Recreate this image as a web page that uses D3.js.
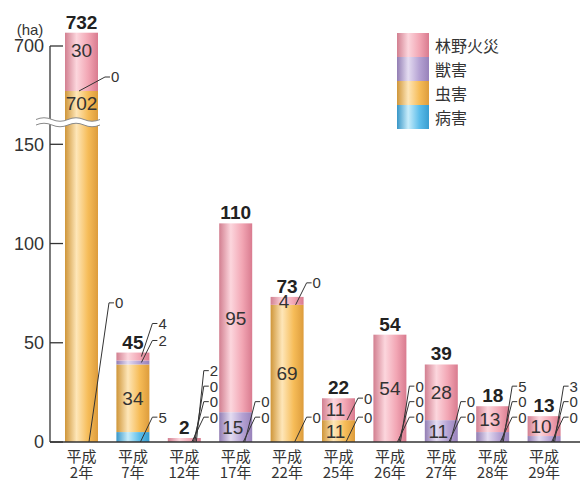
<!DOCTYPE html>
<html><head><meta charset="utf-8">
<script src="https://cdn.jsdelivr.net/npm/d3@7/dist/d3.min.js"></script>
<style>
html,body{margin:0;padding:0;background:#fff;}
svg{display:block;}
</style></head>
<body>
<svg id="chart" width="580" height="483"></svg>
<script>
// ---- data ----
const categories = ["平成2年","平成7年","平成12年","平成17年","平成22年","平成25年","平成26年","平成27年","平成28年","平成29年"];
const eraLabel = "平成";
const yearLabels = ["2年","7年","12年","17年","22年","25年","26年","27年","28年","29年"];
const seriesKeys = ["disease","insect","animal","fire"];        // bottom -> top
const seriesNames = ["病害","虫害","獣害","林野火災"];
const disease = [0,5,0,0,0,0,0,0,0,0];
const insect  = [702,34,0,0,69,11,0,0,0,0];
const animal  = [0,2,0,15,0,0,0,11,5,3];
const fire    = [30,4,2,95,4,11,54,28,13,10];
const axisTicks = [0,50,100,150,700];
const unitLabel = "(ha)";
// segments labelled inside even though small
const insideSmall = [["平成22年","fire"]];

// ---- layout ----
const W = 580, H = 483;
const baseY = 442;
const svg = d3.select("#chart");
const defs = svg.append("defs");

const x = d3.scaleBand().domain(categories).range([55.8, 569.8]).paddingInner(0.358).paddingOuter(0.179);
// bar scale with break (values above ~161 compressed)
const yBar = d3.scaleLinear().domain([0, 161, 702, 732]).range([baseY, 122, 91, 32.7]);
// axis scale (tick labels)
const yAxis = d3.scaleLinear().domain([0, 150, 700]).range([baseY, 144.3, 46]);

const gradStops = {
  fire:    ["#d27f90","#fcd6dd","#f2a6b4","#d97b8f"],
  animal:  ["#927db3","#e4dcf1","#b5a2d3","#9882ba"],
  insect:  ["#cf963a","#fee6b8","#f6bc58","#dd9c3c"],
  disease: ["#3896c7","#c8edfb","#5cbdea","#389dd0"]
};
seriesKeys.forEach(k => {
  const g = defs.append("linearGradient").attr("id","g-"+k).attr("x1","0").attr("x2","1").attr("y1","0").attr("y2","0");
  [0,0.35,0.7,1].forEach((o,i)=> g.append("stop").attr("offset",o).attr("stop-color",gradStops[k][i]));
});

const rows = categories.map((c,i)=>({cat:c, disease:disease[i], insect:insect[i], animal:animal[i], fire:fire[i]}));
const stacked = d3.stack().keys(seriesKeys)(rows);

const textCol = "#333";
const numFont = "'Liberation Sans', Arial, sans-serif";
const cjkFont = "'Noto Sans CJK JP', sans-serif";

// bars
const gBars = svg.append("g");
stacked.forEach(layer => {
  gBars.selectAll(null).data(layer.filter(d => d[1] > d[0])).enter().append("rect")
    .attr("x", d => x(d.data.cat))
    .attr("width", x.bandwidth())
    .attr("y", d => yBar(d[1]))
    .attr("height", d => yBar(d[0]) - yBar(d[1]))
    .attr("fill", "url(#g-"+layer.key+")");
});

// y axis line
svg.append("line").attr("x1",50).attr("x2",50).attr("y1",yAxis(700)).attr("y2",baseY).attr("stroke",textCol).attr("stroke-width",1.3);
// axis break wave over axis and first bar
const wy1 = 119.5, wy2 = 125;
svg.append("path")
  .attr("d", `M36,${wy1} Q44,${wy1-3.5} 52,${wy1} T68,${wy1} T84,${wy1} T100,${wy1} L100,${wy2} Q92,${wy2+3.5} 84,${wy2} T68,${wy2} T52,${wy2} T36,${wy2} Z`)
  .attr("fill","#fff");
[wy1, wy2].forEach(w => svg.append("path").attr("d", `M36,${w} Q44,${w-3.5} 52,${w} T68,${w} T84,${w} T100,${w}`)
  .attr("fill","none").attr("stroke","#8a8a8a").attr("stroke-width",1));

// ticks
axisTicks.forEach(t => {
  svg.append("line").attr("x1",50).attr("x2",63).attr("y1",yAxis(t)).attr("y2",yAxis(t)).attr("stroke",textCol).attr("stroke-width",1.3);
  svg.append("text").attr("x",44).attr("y",yAxis(t)).attr("dy","0.36em").attr("text-anchor","end")
    .attr("font-family",numFont).attr("font-size",18).attr("fill",textCol).text(t);
});
svg.append("text").attr("x",30).attr("y",30).attr("dy","0.36em").attr("text-anchor","middle")
  .attr("font-family",numFont).attr("font-size",15).attr("fill",textCol).text(unitLabel);

// x baseline
svg.append("line").attr("x1",50).attr("x2",W).attr("y1",baseY).attr("y2",baseY).attr("stroke",textCol).attr("stroke-width",1.5);

// x labels
categories.forEach((c,i) => {
  const cx = x(c) + x.bandwidth()/2;
  const t = svg.append("text").attr("text-anchor","middle")
    .attr("font-family",cjkFont).attr("font-size",15).attr("fill",textCol);
  t.append("tspan").attr("x",cx).attr("y",462).text(eraLabel);
  t.append("tspan").attr("x",cx).attr("y",478).text(yearLabels[i]);
});

// totals
rows.forEach(r => {
  const tot = seriesKeys.reduce((s,k)=>s+r[k],0);
  svg.append("text").attr("x", x(r.cat)+x.bandwidth()/2).attr("y", yBar(tot)-4)
    .attr("text-anchor","middle").attr("font-family",numFont).attr("font-weight","bold")
    .attr("font-size",19).attr("fill","#222").text(tot);
});

// inside labels and callouts
const isInsideSmall = (cat,k) => insideSmall.some(p => p[0]===cat && p[1]===k);
const gLab = svg.append("g").attr("font-family",numFont).attr("fill",textCol);
const gCall = svg.append("g");
categories.forEach((c,i) => {
  const bx = x(c), bw = x.bandwidth(), br = bx + bw;
  const segs = seriesKeys.map((k,si) => ({k, v: rows[i][k], y0: stacked[si][i][0], y1: stacked[si][i][1]}));
  const callouts = segs.filter(s => s.v < 6 && !isInsideSmall(c, s.k));
  const hasBaseCall = callouts.some(s => s.y0 === 0);
  const bigBar = c === categories[0];
  segs.filter(s => !callouts.includes(s) && s.v > 0).forEach(s => {
    let ly = (yBar(s.y0) + yBar(s.y1)) / 2;
    if (bigBar) ly = s.k === "fire" ? yBar(s.y1) + 17 : yBar(s.y1) + 12;
    const shift = (s.v <= 15 && hasBaseCall) ? -3 : 0;
    gLab.append("text").attr("x", bx + bw/2 + shift).attr("y", ly).attr("dy","0.36em")
      .attr("text-anchor","middle").attr("font-size",19).text(s.v);
  });
  const baseGroup = callouts.filter(s => s.y0 === 0);
  const upperGroup = callouts.filter(s => s.y0 > 0);
  const extra = bigBar ? 8 : 0;
  baseGroup.forEach((s,k) => {
    const ly = bigBar ? yBar(70) : yBar(12.5) - k*15.5;
    const sx = br - 9 + k*1.5, sy = baseY;
    drawCallout(sx, sy, br + 3 + extra, ly, s.v);
  });
  let prev = null;
  upperGroup.forEach(s => {
    const ay = (yBar(s.y0) + yBar(s.y1)) / 2;
    let ly = ay - (bigBar ? 14 : 22);
    if (prev !== null) ly = Math.min(ly, prev - 17);
    prev = ly;
    const sx = bigBar ? bx + 14 : br - 8;
    drawCallout(sx, ay, br + 3 + (bigBar ? 4 : 0), ly, s.v);
  });
});
function drawCallout(sx, sy, hx, hy, v){
  gCall.append("path").attr("d", `M${sx},${sy} L${hx},${hy} L${hx+5},${hy}`)
    .attr("fill","none").attr("stroke","#333").attr("stroke-width",1);
  gCall.append("text").attr("x", hx+6).attr("y", hy).attr("dy","0.36em")
    .attr("font-family",numFont).attr("font-size",15).attr("fill",textCol).text(v);
}

// legend
const legOrder = ["fire","animal","insect","disease"];
legOrder.forEach((k,i) => {
  svg.append("rect").attr("x",397).attr("y",33 + i*24).attr("width",32).attr("height",24).attr("fill","url(#g-"+k+")");
  svg.append("text").attr("x",435).attr("y",46 + i*24).attr("dy","0.36em")
    .attr("font-family",cjkFont).attr("font-size",16).attr("fill",textCol)
    .text(seriesNames[seriesKeys.indexOf(k)]);
});
</script>
</body></html>
